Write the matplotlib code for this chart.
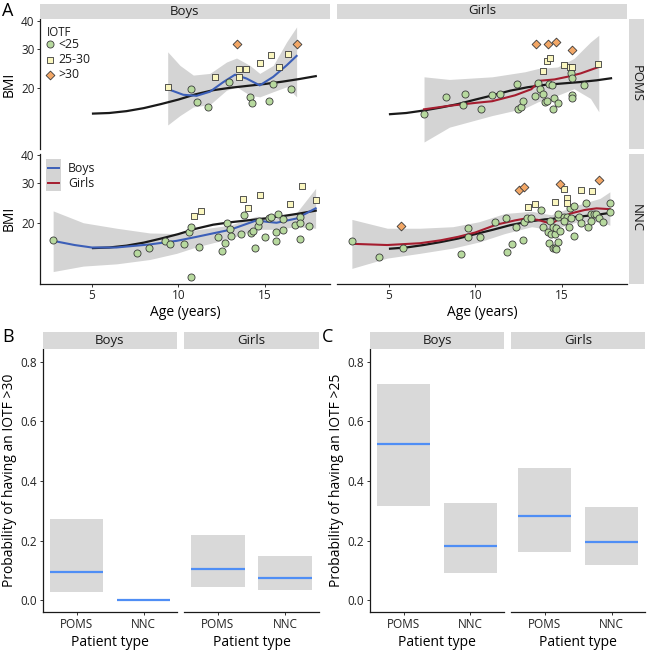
import matplotlib
matplotlib.use("Agg")
import matplotlib.pyplot as plt
from matplotlib.lines import Line2D
from matplotlib.patches import Rectangle
import numpy as np

plt.rcParams['font.family'] = ['Open Sans', 'DejaVu Sans']

# ---------------- DATA ----------------
# Panel A : reference curves (black)
ref_age_boys = [5, 6, 7, 8, 9, 10, 11, 12, 13, 14, 15, 16, 17, 18]
ref_bmi_boys = [15.4, 15.5, 15.8, 16.3, 17.0, 17.8, 18.8, 19.6, 20.1, 20.5, 20.9, 21.4, 22.0, 22.7]
ref_age_girls = [5, 6, 7, 8, 9, 10, 11, 12, 13, 14, 15, 16, 17, 17.9]
ref_bmi_girls = [15.3, 15.5, 15.9, 16.4, 17.0, 17.8, 18.6, 19.5, 20.2, 20.7, 21.0, 21.3, 21.7, 22.2]

# POMS boys
pb_circ_age = [10.7, 11.1, 11.7, 12.92, 14.12, 14.23, 15.21, 15.44, 16.52]
pb_circ_bmi = [19.9, 17.4, 16.5, 21.4, 18.2, 17.1, 17.5, 20.8, 19.9]
pb_sq_age = [9.38, 12.11, 13.51, 13.9, 13.51, 14.71, 15.33, 15.83, 16.31]
pb_sq_bmi = [20.2, 22.4, 24.3, 24.3, 22.4, 25.9, 28.1, 24.9, 28.5]
pb_dia_age = [13.4, 16.83]
pb_dia_bmi = [31.5, 31.4]
pb_fit_age = [9.41, 10.28, 11.05, 11.82, 12.59, 13.27, 13.94, 14.7, 15.48, 16.25, 16.83]
pb_fit_bmi = [19.8, 18.7, 18.5, 19.3, 21.3, 23.0, 22.1, 20.6, 22.5, 25.3, 27.9]
pb_band_age = [9.38, 10.09, 10.86, 11.82, 12.78, 13.36, 14.13, 14.7, 15.48, 16.25, 16.83]
pb_band_lo = [13.7, 15.1, 16.5, 16.9, 19.6, 20.3, 18.6, 18.3, 19.3, 20.3, 18.3]
pb_band_hi = [29.1, 25.3, 22.9, 23.3, 26.2, 27.3, 25.3, 23.3, 25.3, 32.2, 37.6]

# POMS girls
pg_circ_age = [7.03, 8.28, 9.26, 9.38, 10.34, 10.93, 11.44, 12.43, 12.48, 12.64, 12.73, 13.43, 13.62,
               13.72, 13.92, 14.0, 14.11, 14.24, 14.41, 14.49, 14.53, 14.8, 15.51, 15.57, 15.61, 15.61, 16.27]
pg_circ_bmi = [15.3, 18.2, 16.8, 18.9, 16.2, 18.7, 18.9, 20.9, 16.1, 16.5, 17.5, 18.4, 21.1,
               19.9, 18.9, 17.3, 17.5, 20.8, 20.6, 16.2, 18.0, 17.2, 23.4, 22.2, 18.7, 18.0, 20.7]
pg_sq_age = [13.89, 14.11, 14.3, 15.1, 15.48, 15.61, 17.07]
pg_sq_bmi = [23.8, 26.4, 27.3, 25.3, 25.0, 24.8, 25.7]
pg_dia_age = [13.5, 14.19, 14.68, 15.57]
pg_dia_bmi = [31.5, 31.7, 32.2, 29.7]
pg_fit_age = [7.03, 8.5, 10.0, 10.97, 12.29, 13.23, 13.72, 14.57, 15.3, 16.08, 17.13]
pg_fit_bmi = [16.1, 16.7, 17.2, 17.5, 18.6, 19.8, 21.6, 21.9, 22.5, 23.3, 24.9]
pg_band_age = [7.03, 8.5, 10.97, 12.86, 13.62, 14.75, 15.7, 16.65, 17.13]
pg_band_lo = [11.5, 13.4, 15.1, 16.3, 17.4, 18.6, 19.9, 18.0, 15.7]
pg_band_hi = [22.5, 21.9, 22.5, 23.7, 24.5, 24.9, 27.2, 32.2, 34.5]

# NNC boys
nb_circ_age = [2.76, 7.58, 8.29, 9.2, 9.51, 10.3, 10.59, 10.7, 11.2, 10.7, 12.3, 12.51, 12.71, 12.8,
               12.99, 13.02, 13.61, 13.8, 14.17, 14.32, 14.4, 14.6, 14.67, 15.0, 15.25, 15.35, 15.62,
               15.62, 15.73, 16.02, 16.02, 16.72, 17.02, 17.02, 17.04, 17.52]
nb_circ_bmi = [16.7, 14.7, 15.4, 16.6, 16.1, 16.1, 18.1, 19.1, 15.6, 11.4, 17.3, 14.9, 16.2, 20.0,
               18.7, 17.4, 17.8, 21.7, 18.0, 18.4, 15.4, 19.3, 20.4, 17.3, 21.1, 21.2, 16.6,
               18.1, 21.9, 18.6, 20.8, 19.5, 21.2, 20.0, 16.9, 19.3]
nb_sq_age = [10.92, 11.3, 13.73, 14.02, 14.71, 16.45, 17.14, 17.93]
nb_sq_bmi = [21.5, 22.6, 25.5, 23.2, 26.6, 24.2, 29.2, 25.2]
nb_fit_age = [2.76, 4.0, 5.0, 6.4, 8.35, 9.9, 11.05, 12.98, 14.52, 15.1, 15.67, 16.83, 17.93]
nb_fit_bmi = [16.6, 15.9, 15.5, 15.5, 16.0, 16.6, 17.3, 18.6, 20.5, 20.2, 20.0, 20.9, 23.2]
nb_band_age = [2.76, 4.5, 6.43, 8.35, 9.9, 11.05, 12.98, 14.52, 15.67, 16.83, 17.93]
nb_band_lo = [12.1, 12.8, 13.1, 13.7, 14.6, 15.6, 17.0, 18.7, 18.7, 19.2, 18.9]
nb_band_hi = [22.6, 20.0, 18.9, 18.0, 17.9, 18.6, 19.5, 21.4, 20.9, 22.2, 28.5]

# NNC girls
ng_circ_age = [2.86, 4.43, 5.82, 9.17, 9.59, 9.59, 10.25, 11.16, 11.74, 11.82, 12.14, 12.33, 12.73,
               12.82, 12.98, 13.2, 13.81, 13.9, 14.19, 14.23, 14.3, 14.34, 14.49, 14.6, 14.68, 14.47,
               14.57, 14.68, 14.79, 14.76, 14.79, 14.91, 15.1, 15.32, 15.13, 15.48, 15.67, 15.51,
               15.4, 15.67, 15.99, 16.08, 16.38, 16.5, 16.67, 16.69, 16.84, 16.99, 17.14, 17.35,
               17.77, 17.77]
ng_circ_bmi = [16.5, 14.1, 15.4, 14.5, 18.9, 17.3, 17.2, 20.2, 21.0, 14.8, 16.1, 19.1, 16.8,
               20.2, 21.1, 20.9, 22.8, 19.2, 18.2, 16.3, 20.4, 17.9, 19.2, 17.9, 18.9, 15.5,
               15.4, 15.2, 16.4, 21.3, 21.8, 18.4, 21.3, 21.3, 20.4, 23.2, 23.8, 20.9,
               19.2, 17.4, 21.3, 19.9, 24.4, 19.2, 21.8, 20.4, 21.8, 21.8, 21.0, 20.2,
               24.6, 22.4]
ng_sq_age = [13.01, 13.43, 14.57, 15.1, 15.29, 15.29, 16.08, 16.76]
ng_sq_bmi = [23.4, 24.2, 24.8, 28.4, 25.7, 24.4, 28.1, 27.6]
ng_dia_age = [5.72, 12.5, 12.82, 14.89, 17.16]
ng_dia_bmi = [19.4, 27.9, 28.8, 29.7, 31.2]
ng_fit_age = [2.86, 4.9, 6.8, 8.0, 9.0, 10.0, 11.2, 12.3, 12.9, 13.6, 14.38, 14.85, 15.5, 16.3, 17.0, 17.77]
ng_fit_bmi = [16.1, 15.9, 16.2, 16.7, 17.3, 18.1, 19.6, 20.5, 20.9, 20.6, 19.8, 20.8, 22.0, 22.8, 23.2, 23.0]
ng_band_age = [2.86, 4.91, 6.8, 8.69, 10.2, 11.7, 13.25, 14.38, 15.9, 17.2, 17.77]
ng_band_lo = [12.5, 13.9, 14.6, 15.4, 16.4, 17.9, 19.2, 18.6, 20.2, 20.2, 19.5]
ng_band_hi = [20.7, 18.9, 18.9, 19.2, 20.2, 22.0, 22.5, 21.7, 24.0, 25.7, 27.5]

# Panels B and C
patient_types = ['POMS', 'NNC']
b_boys_mid = [0.095, 0.0]
b_boys_lo = [0.028, 0.0]
b_boys_hi = [0.272, 0.0]
b_girls_mid = [0.103, 0.074]
b_girls_lo = [0.045, 0.034]
b_girls_hi = [0.218, 0.149]
c_boys_mid = [0.524, 0.181]
c_boys_lo = [0.317, 0.092]
c_boys_hi = [0.725, 0.326]
c_girls_mid = [0.283, 0.196]
c_girls_lo = [0.162, 0.117]
c_girls_hi = [0.443, 0.311]

# ---------------- STYLE ----------------
W, H = 647, 650
fig = plt.figure(figsize=(W / 100, H / 100), dpi=100)

STRIP = '#d9d9d9'
BAND = '#d4d4d4'
BLUE_A = '#3c5fb8'
RED_A = '#a51d2f'
BLUE_B = '#4f8ef5'
C_CIRC = '#b7d99e'
C_SQ = '#faf6bf'
C_DIA = '#f2a766'
EDGE = '#3a3a3a'
TICK_COL = '#222222'
TICK_FS = 8.5
TITLE_FS = 10
STRIP_FS = 9.5
LEG_FS = 8.8


def px(x0, y0, x1, y1):
    return [x0 / W, 1 - y1 / H, (x1 - x0) / W, (y1 - y0) / H]


def strip(x0, y0, x1, y1, text, rot=0):
    a = fig.add_axes(px(x0, y0, x1, y1))
    a.set_facecolor(STRIP)
    a.set_xticks([]); a.set_yticks([])
    for s in a.spines.values():
        s.set_visible(False)
    a.text(0.5, 0.5, text, ha='center', va='center', fontsize=STRIP_FS, rotation=rot,
           color='#1a1a1a', transform=a.transAxes)
    return a


def style_axes(a, left, bottom):
    for s in ['top', 'right']:
        a.spines[s].set_visible(False)
    a.spines['left'].set_visible(left)
    a.spines['bottom'].set_visible(bottom)
    for s in ['left', 'bottom']:
        a.spines[s].set_linewidth(0.9)
        a.spines[s].set_color('#1a1a1a')
    a.tick_params(axis='both', which='major', length=2.5, width=0.7, color='#333333',
                  labelsize=TICK_FS, labelcolor=TICK_COL, pad=1.5)
    a.tick_params(axis='both', which='minor', length=0)
    if not left:
        a.tick_params(axis='y', left=False, labelleft=False)
    if not bottom:
        a.tick_params(axis='x', bottom=False, labelbottom=False)


XLIM = (2.0, 18.76)
YLIM = (10.7, 40.8)


def panelA(rect, left, bottom, ref_a, ref_b, fit_a, fit_b, fit_col, band_a, band_lo, band_hi,
           circ, sq, dia):
    a = fig.add_axes(px(*rect))
    a.set_yscale('log')
    a.fill_between(band_a, band_lo, band_hi, color=BAND, lw=0, zorder=1)
    a.plot(ref_a, ref_b, color='#1a1a1a', lw=1.6, zorder=2, solid_capstyle='butt')
    a.plot(fit_a, fit_b, color=fit_col, lw=1.5, zorder=3)
    if circ is not None:
        a.scatter(circ[0], circ[1], s=26, marker='o', facecolor=C_CIRC, edgecolor=EDGE, lw=0.6, zorder=4)
    if sq is not None:
        a.scatter(sq[0], sq[1], s=22, marker='s', facecolor=C_SQ, edgecolor=EDGE, lw=0.6, zorder=4)
    if dia is not None:
        a.scatter(dia[0], dia[1], s=20, marker='D', facecolor=C_DIA, edgecolor=EDGE, lw=0.6, zorder=4)
    a.set_xlim(*XLIM)
    a.set_ylim(*YLIM)
    a.set_yticks([20, 30, 40])
    a.set_yticklabels(['20', '30', '40'])
    a.yaxis.set_minor_locator(matplotlib.ticker.NullLocator())
    a.set_xticks([5, 10, 15])
    a.set_xticklabels(['5', '10', '15'])
    a.set_facecolor('none')
    style_axes(a, left, bottom)
    if left:
        a.set_ylabel('BMI', fontsize=TITLE_FS, labelpad=3)
    if bottom:
        a.set_xlabel('Age (years)', fontsize=TITLE_FS, labelpad=2)
    return a


# Panel A layout
TL = (40, 19, 330, 149)
TR = (337, 19, 627, 149)
BL = (40, 153.5, 330, 283.5)
BR = (337, 153.5, 627, 283.5)

axTL = panelA(TL, True, False, ref_age_boys, ref_bmi_boys, pb_fit_age, pb_fit_bmi, BLUE_A,
              pb_band_age, pb_band_lo, pb_band_hi,
              (pb_circ_age, pb_circ_bmi), (pb_sq_age, pb_sq_bmi), (pb_dia_age, pb_dia_bmi))
axTR = panelA(TR, False, False, ref_age_girls, ref_bmi_girls, pg_fit_age, pg_fit_bmi, RED_A,
              pg_band_age, pg_band_lo, pg_band_hi,
              (pg_circ_age, pg_circ_bmi), (pg_sq_age, pg_sq_bmi), (pg_dia_age, pg_dia_bmi))
axBL = panelA(BL, True, True, ref_age_boys, ref_bmi_boys, nb_fit_age, nb_fit_bmi, BLUE_A,
              nb_band_age, nb_band_lo, nb_band_hi,
              (nb_circ_age, nb_circ_bmi), (nb_sq_age, nb_sq_bmi), None)
axBR = panelA(BR, False, True, ref_age_girls, ref_bmi_girls, ng_fit_age, ng_fit_bmi, RED_A,
              ng_band_age, ng_band_lo, ng_band_hi,
              (ng_circ_age, ng_circ_bmi), (ng_sq_age, ng_sq_bmi), (ng_dia_age, ng_dia_bmi))

strip(40, 3.5, 330, 18.5, 'Boys')
strip(337, 3.5, 627, 18.5, 'Girls')
strip(628.5, 19, 644, 149, 'POMS', rot=270)
strip(628.5, 153.5, 644, 283.5, 'NNC', rot=270)

# IOTF legend (top-left panel)
tA = axTL.transAxes
axTL.text(0.024, 0.90, 'IOTF', transform=tA, fontsize=8.3, va='center', ha='left', color='#1a1a1a')
leg_items = [('o', C_CIRC, '<25', 0.805, 26), ('s', C_SQ, '25-30', 0.685, 22), ('D', C_DIA, '>30', 0.572, 20)]
for mk, fc, lab, yy, ss in leg_items:
    axTL.scatter([0.0345], [yy], s=ss, marker=mk, facecolor=fc, edgecolor=EDGE, lw=0.6,
                 transform=tA, clip_on=False, zorder=5)
    axTL.text(0.062, yy, lab, transform=tA, fontsize=LEG_FS, va='center', ha='left', color='#1a1a1a')

# Boys / Girls legend (bottom-left panel)
tB = axBL.transAxes
axBL.add_patch(Rectangle((0.0207, 0.715), 0.052, 0.24, transform=tB, facecolor=BAND,
                         edgecolor='none', zorder=5, clip_on=False))
axBL.add_line(Line2D([0.028, 0.065], [0.886, 0.886], transform=tB, color=BLUE_A, lw=1.4, zorder=6))
axBL.add_line(Line2D([0.028, 0.065], [0.772, 0.772], transform=tB, color=RED_A, lw=1.4, zorder=6))
axBL.text(0.0966, 0.886, 'Boys', transform=tB, fontsize=LEG_FS, va='center', ha='left', color='#1a1a1a')
axBL.text(0.0966, 0.772, 'Girls', transform=tB, fontsize=LEG_FS, va='center', ha='left', color='#1a1a1a')


# Panels B and C
def panelBC(rect, left, mid, lo, hi, ylabel=None):
    a = fig.add_axes(px(*rect))
    xs = np.arange(1, len(patient_types) + 1)
    a.bar(xs, np.array(hi) - np.array(lo), bottom=lo, width=0.8, color=STRIP, lw=0, zorder=1)
    a.hlines(mid, xs - 0.4, xs + 0.4, color=BLUE_B, lw=1.6, zorder=2)
    a.set_xlim(0.5, 2.5)
    a.set_ylim(-0.04, 0.843)
    a.set_xticks(xs)
    a.set_xticklabels(patient_types)
    a.set_yticks([0.0, 0.2, 0.4, 0.6, 0.8])
    a.set_yticklabels(['0.0', '0.2', '0.4', '0.6', '0.8'])
    style_axes(a, left, True)
    a.set_xlabel('Patient type', fontsize=TITLE_FS, labelpad=3)
    if ylabel:
        a.set_ylabel(ylabel, fontsize=TITLE_FS, labelpad=3)
    return a


panelBC((43, 349, 177, 612), True, b_boys_mid, b_boys_lo, b_boys_hi,
        'Probability of having an IOTF >30')
panelBC((184, 349, 319, 612), False, b_girls_mid, b_girls_lo, b_girls_hi)
panelBC((370, 349, 504, 612), True, c_boys_mid, c_boys_lo, c_boys_hi,
        'Probability of having an IOTF >25')
panelBC((511, 349, 645, 612), False, c_girls_mid, c_girls_lo, c_girls_hi)

strip(43, 332, 177, 349, 'Boys')
strip(184, 332, 319, 349, 'Girls')
strip(370, 332, 504, 349, 'Boys')
strip(511, 332, 645, 349, 'Girls')

# Panel letters
fig.text(2 / W, 1 - 11 / H, 'A', fontsize=13, va='center', ha='left')
fig.text(2 / W, 1 - 337 / H, 'B', fontsize=13, va='center', ha='left')
fig.text(322 / W, 1 - 337 / H, 'C', fontsize=13, va='center', ha='left')

fig.savefig('out.png', dpi=100)
